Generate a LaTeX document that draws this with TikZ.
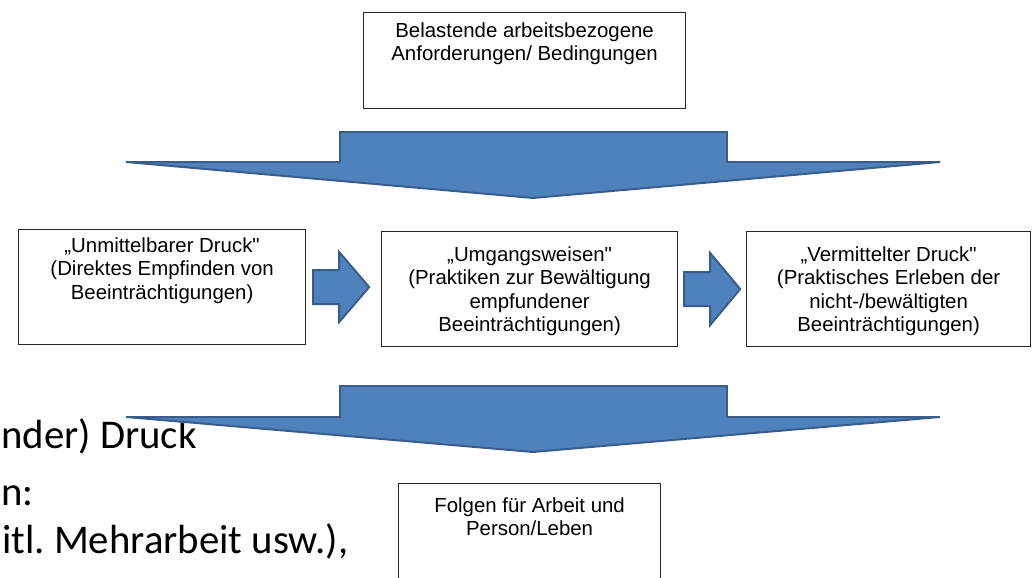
\documentclass[tikz,border=0pt]{standalone}
\usepackage{fontspec}
\setmainfont{Liberation Sans}
\newfontfamily\slidefont{Carlito}
\usepackage{tikz}
\usetikzlibrary{positioning, calc}
\definecolor{arrowfill}{HTML}{4F81BD}
\definecolor{arrowline}{HTML}{385D8A}
\frenchspacing

\begin{document}
\begin{tikzpicture}[
    x=0.025cm, y=-0.025cm,
    box/.style={draw=black!85, line width=0.8pt, fill=white, anchor=north west, inner sep=0pt},
    boxtext/.style={font=\fontsize{14.5}{16.7}\selectfont, align=center, inner sep=0pt, anchor=north},
    blockarrow/.style={fill=arrowfill, draw=arrowline, line width=1.4pt, line join=miter},
    slidetext/.style={font=\slidefont\fontsize{29}{33}\selectfont, anchor=base west, inner sep=0pt},
]
    \useasboundingbox (0,0) rectangle (1033,578);

    % Slide text in the background
    \node[slidetext] (line1) at (1,448) {nder) Druck};
    \node[slidetext] (line2) at (1,505) {n:};
    \node[slidetext] (line3) at (2,553) {itl. Mehrarbeit usw.),};

    % Top box
    \node[box, minimum width=8.05cm, minimum height=2.4cm] (belast) at (363,12) {};
    \node[boxtext] (belast-txt) at ($(belast.north)+(0,10)$) {Belastende arbeitsbezogene\\Anforderungen/ Bedingungen};

    % Big arrow down
    \coordinate (down1) at (533,132);
    \draw[blockarrow] (down1) -- ++(194,0) -- ++(0,30) -- ++(213,0) -- ++(-407,36)
        -- ++(-407,-36) -- ++(214,0) -- ++(0,-30) -- cycle;

    % Row of three boxes
    \node[box, minimum width=7.175cm, minimum height=2.875cm] (unmittel) at (18,229) {};
    \node[boxtext] (unmittel-txt) at ($(unmittel.north)+(0,8)$) {„Unmittelbarer Druck\textquotedbl\\(Direktes Empfinden von\\Beeinträchtigungen)};

    \node[box, minimum width=7.4cm, minimum height=2.875cm] (umgang) at (381,231) {};
    \node[boxtext] (umgang-txt) at ($(umgang.north)+(0,15)$) {„Umgangsweisen\textquotedbl\\(Praktiken zur Bewältigung\\empfundener\\Beeinträchtigungen)};

    \node[box, minimum width=7.1cm, minimum height=2.875cm] (vermittel) at (746,231) {};
    \node[boxtext] (vermittel-txt) at ($(vermittel.north)+(0,15)$) {„Vermittelter Druck\textquotedbl\\(Praktisches Erleben der\\nicht-/bewältigten\\Beeinträchtigungen)};

    % Small arrows between the boxes
    \draw[blockarrow] ($(unmittel.east)+(7,0)$) ++(0,-17) -- ++(26,0) -- ++(0,-18) -- ++(30,35)
        -- ++(-30,35) -- ++(0,-18) -- ++(-26,0) -- cycle;
    \draw[blockarrow] ($(umgang.east)+(6,0)$) ++(0,-17) -- ++(26,0) -- ++(0,-19) -- ++(30,36)
        -- ++(-30,36) -- ++(0,-19) -- ++(-26,0) -- cycle;

    % Big arrow down
    \coordinate (down2) at (533,386);
    \draw[blockarrow] (down2) -- ++(194,0) -- ++(0,31) -- ++(213,0) -- ++(-407,35)
        -- ++(-407,-35) -- ++(214,0) -- ++(0,-31) -- cycle;

    % Bottom box
    \node[box, minimum width=6.55cm, minimum height=3cm] (folgen) at (398,483) {};
    \node[boxtext] (folgen-txt) at ($(folgen.north)+(0,14)$) {Folgen für Arbeit und\\Person/Leben};
\end{tikzpicture}
\end{document}
